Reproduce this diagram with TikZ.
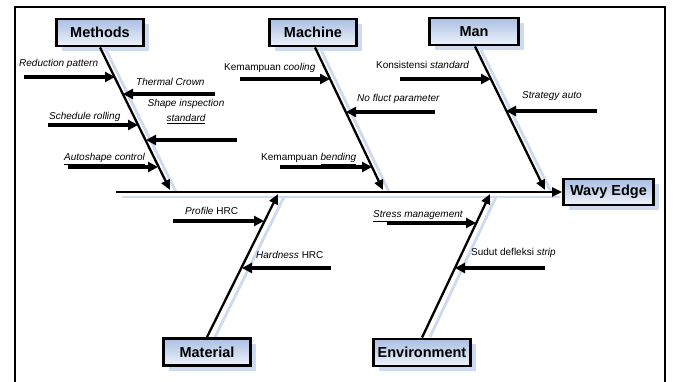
\documentclass[tikz,border=0pt]{standalone}
\usepackage{fontspec}
\setmainfont{Liberation Sans}
\usetikzlibrary{arrows.meta,calc,shadows}
\definecolor{boxtop}{RGB}{170,191,226}
\definecolor{boxbot}{RGB}{238,243,251}
\definecolor{shad}{RGB}{205,218,240}
\begin{document}
\begin{tikzpicture}[x=1pt,y=-1pt,
  catbox/.style={draw=black,line width=2.8pt,top color=boxtop,bottom color=boxbot,
    font=\fontsize{14.5}{16}\selectfont\bfseries,minimum height=27pt,inner sep=0pt,
    drop shadow={shadow xshift=5pt,shadow yshift=-5pt,fill=shad,opacity=1}},
  bone/.style={line width=2.3pt,-{Triangle[length=10pt,width=9pt]}},
  subarrow/.style={line width=3.2pt,-{Triangle[length=10pt,width=10pt]}},
  lab/.style={font=\fontsize{10}{15}\selectfont\itshape,inner sep=0pt},
  shadowline/.style={draw=shad,line width=2.8pt}]
\useasboundingbox (0,0) rectangle (675,382);
\fill[white] (0,0) rectangle (675,382);
% frame
\draw[line width=1.7pt] (15,382) -- (15,7) -- (665,7) -- (665,382);

% coordinates on the spine
\coordinate (spst) at (116,192);
\coordinate (mtip) at (170,190);
\coordinate (mctip) at (383,190);
\coordinate (mantip) at (545,190);
\coordinate (mattip) at (278,194);
\coordinate (envtip) at (490,194);

% shadows of bones
\draw[shadowline] ([shift={(6,5)}]spst) -- (560,197);
\draw[shadowline] (106,50) -- (176,192);
\draw[shadowline] (321,50) -- (389,192);
\draw[shadowline] (481,50) -- (551,192);
\draw[shadowline] (215,337) -- (284,197);
\draw[shadowline] (430,337) -- (496,197);

% boxes
\node[catbox,minimum width=87pt] (methods) at (100,32.5) {Methods};
\node[catbox,minimum width=87pt] (machine) at (313,32.5) {Machine};
\node[catbox,minimum width=89pt] (man) at (474,31.5) {Man};
\node[catbox,minimum width=90pt,minimum height=26pt] (wavy) at (608.5,192) {Wavy Edge};
\node[catbox,minimum width=87pt] (material) at (207,352) {Material};
\node[catbox,minimum width=97pt] (env) at (422,352.5) {Environment};

% spine and bones
\draw[bone] (spst) -- (wavy.west);
\draw[bone] (methods.south) -- (mtip);
\draw[bone] ([xshift=2pt]machine.south) -- (mctip);
\draw[bone] ([xshift=1pt]man.south) -- (mantip);
\draw[bone] (material.north) -- (mattip);
\draw[bone] (env.north) -- (envtip);

% Methods causes
\coordinate (a1s) at (24,77);  \coordinate (a1e) at (115,77);
\coordinate (a2s) at (215,94); \coordinate (a2e) at (123,94);
\coordinate (a3s) at (48,125); \coordinate (a3e) at (138,125);
\coordinate (a4s) at (237,140); \coordinate (a4e) at (146,140);
\coordinate (a5s) at (68,167); \coordinate (a5e) at (158,167);
\draw[subarrow] (a1s) -- (a1e);
\draw[subarrow] (a2s) -- (a2e);
\draw[subarrow] (a3s) -- (a3e);
\draw[subarrow] (a4s) -- (a4e);
\draw[subarrow] (a5s) -- (a5e);
\node[lab,anchor=base west] (l1) at (19,67) {Reduction pattern};
\node[lab,anchor=base west] (l2) at (136,86) {Thermal Crown};
\node[lab,anchor=base west] (l3) at (49,120) {\underline{Schedule rolling}};
\node[lab,anchor=base,align=center] (l4) at (186,122) {Shape inspection\\\underline{standard}};
\node[lab,anchor=base west] (l5) at (64,161) {\underline{Autoshape control}};

% Machine causes
\coordinate (b1s) at (240,79); \coordinate (b1e) at (330,79);
\coordinate (b2s) at (435,112); \coordinate (b2e) at (346,112);
\coordinate (b3s) at (280,167); \coordinate (b3e) at (372,167);
\draw[subarrow] (b1s) -- (b1e);
\draw[subarrow] (b2s) -- (b2e);
\draw[subarrow] (b3s) -- (b3e);
\node[lab,anchor=base west] (m1) at (224,71) {\upshape Kemampuan \itshape cooling};
\node[lab,anchor=base west] (m2) at (357,102) {No fluct parameter};
\node[lab,anchor=base west] (m3) at (261,161) {\upshape Kemampuan \itshape\underline{bending}};

% Man causes
\coordinate (c1s) at (400,79); \coordinate (c1e) at (491,79);
\coordinate (c2s) at (597,111); \coordinate (c2e) at (506,111);
\draw[subarrow] (c1s) -- (c1e);
\draw[subarrow] (c2s) -- (c2e);
\node[lab,anchor=base west] (n1) at (376,69) {\upshape Konsistensi \itshape standard};
\node[lab,anchor=base west] (n2) at (522,99) {Strategy auto};

% Material causes
\coordinate (d1s) at (173,221); \coordinate (d1e) at (264,221);
\coordinate (d2s) at (331,268); \coordinate (d2e) at (242,268);
\draw[subarrow] (d1s) -- (d1e);
\draw[subarrow] (d2s) -- (d2e);
\node[lab,anchor=base west] (p1) at (185,215) {Profile \upshape HRC};
\node[lab,anchor=base west] (p2) at (256,259) {Hardness \upshape HRC};

% Environment causes
\coordinate (e1s) at (387,223); \coordinate (e1e) at (476,223);
\coordinate (e2s) at (545,268); \coordinate (e2e) at (455,268);
\draw[subarrow] (e1s) -- (e1e);
\draw[subarrow] (e2s) -- (e2e);
\node[lab,anchor=base west] (q1) at (373,218) {\underline{Stress management}};
\node[lab,anchor=base west] (q2) at (471,256) {\upshape Sudut defleksi \itshape strip};
\end{tikzpicture}
\end{document}
